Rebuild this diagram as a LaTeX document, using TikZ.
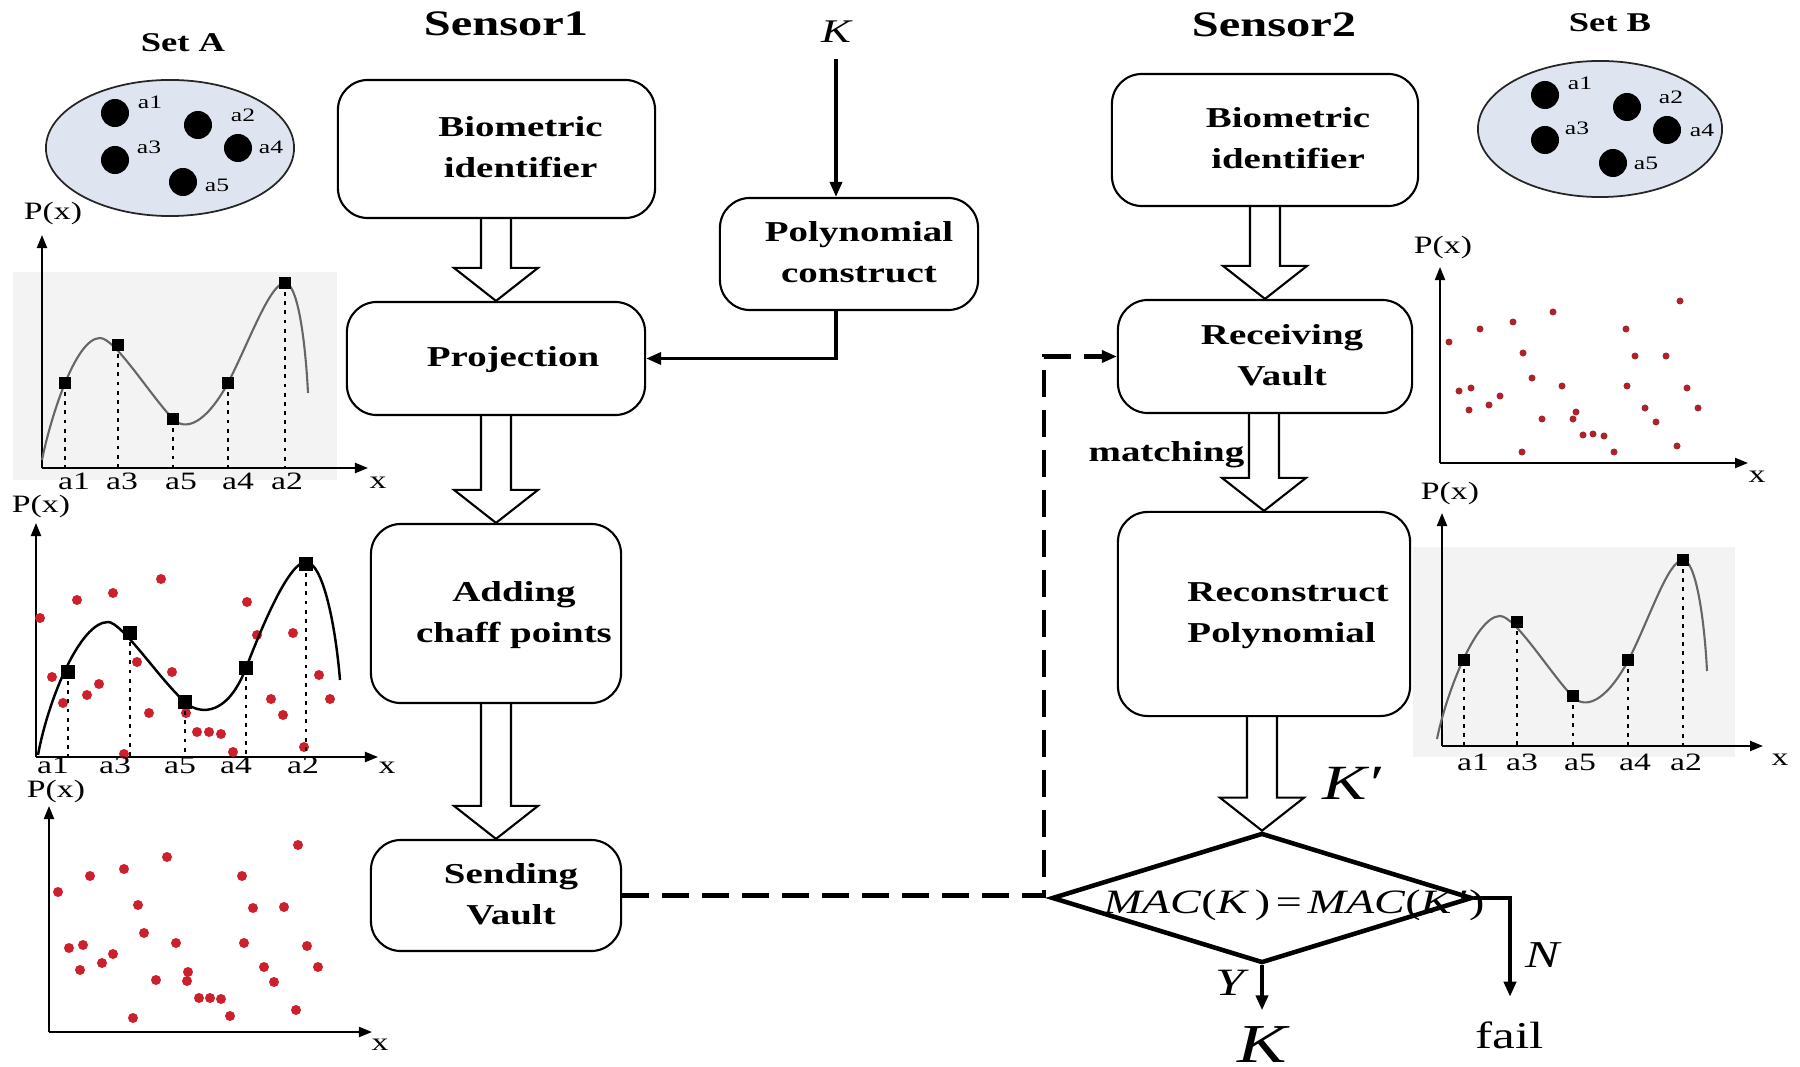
\documentclass[tikz,border=0pt]{standalone}
\usepackage{fontspec}
\setmainfont{Liberation Serif}[FakeStretch=1.35]
\usetikzlibrary{arrows.meta,shapes.geometric,calc}

\definecolor{setfill}{RGB}{223,229,240}
\definecolor{chaffred}{RGB}{205,32,45}
\definecolor{chaffdark}{RGB}{170,35,45}
\definecolor{plotbg}{RGB}{243,243,243}

% two-line box caption, shifted right by half of #1
\newcommand{\stagetext}[2]{\hspace*{#1}\begin{tabular}{@{}c@{}}#2\end{tabular}}
% open block arrow from the bottom of #1 to the top of #2
\newcommand{\thickflow}[2]{%
  \draw[hollow] ($(#2.north |- #1.south)+(-15,0)$) -- ($(#2.north)+(-15,-33)$)
    -- ($(#2.north)+(-42,-33)$) -- (#2.north) -- ($(#2.north)+(42,-33)$)
    -- ($(#2.north)+(15,-33)$) -- ($(#2.north |- #1.south)+(15,0)$);}

\tikzset{
  stage/.style={draw, line width=0.6pt, rounded corners=0.3cm, inner sep=0pt,
    font=\fontsize{8.2}{11.7}\selectfont\bfseries},
  hollow/.style={draw, line width=0.6pt, line join=miter},
  arr/.style={line width=1pt, -{Triangle[length=0.15cm,width=0.12cm]}},
  link/.style={line width=1.3pt, dash pattern=on 0.27cm off 0.13cm},
  axis/.style={line width=0.6pt, -{Triangle[length=0.13cm,width=0.1cm]}},
  axlab/.style={inner sep=0pt, font=\fontsize{7.1}{8}\selectfont},
  setlab/.style={inner sep=0pt, font=\fontsize{5.4}{6}\selectfont},
  title/.style={inner sep=0pt, font=\fontsize{10.2}{12}\selectfont\bfseries},
  settitle/.style={inner sep=0pt, font=\fontsize{7.7}{9}\selectfont\bfseries},
  setshape/.style={ellipse, draw=black!85, line width=0.5pt, fill=setfill, inner sep=0pt},
  dotline/.style={line width=0.8pt, dash pattern=on 1.1pt off 1.5pt},
  mathlab/.style={inner sep=0pt},
  thincurve/.style={black!60, line width=0.6pt},
}

\begin{document}
\begin{tikzpicture}[x=0.01cm, y=-0.01cm]
\useasboundingbox (0,0) rectangle (1800,1067);

% ---------- titles ----------
\node[title] (s1) at (506,24) {Sensor1};
\node[title] (s2) at (1274,25) {Sensor2};
\node[settitle] (sa) at (183,43) {Set A};
\node[settitle] (sb) at (1610,23) {Set B};

% ---------- sets of features ----------
\node[setshape, minimum width=2.48cm, minimum height=1.36cm] (setA) at (170,148) {};
\foreach \x/\y in {115/113, 198/125, 115/160, 238/148, 183/182}
  \fill (\x,\y) circle[radius=0.14cm];
\foreach \n/\x/\y in {a1/150/102, a2/243/115, a3/149/147, a4/271/147, a5/217/185}
  \node[setlab] (A\n) at (\x,\y) {\n};

\node[setshape, minimum width=2.44cm, minimum height=1.36cm] (setB) at (1600,129) {};
\foreach \x/\y in {1545/95, 1627/107, 1545/140, 1667/130, 1613/163}
  \fill (\x,\y) circle[radius=0.14cm];
\foreach \n/\x/\y in {a1/1580/83, a2/1671/97, a3/1577/128, a4/1702/130, a5/1646/163}
  \node[setlab] (B\n) at (\x,\y) {\n};

% ---------- sensor 1 flow ----------
\node[stage, minimum width=3.17cm, minimum height=1.38cm] (bio1) at (496.5,149)
  {\stagetext{0.48cm}{Biometric\\identifier}};
\node[stage, minimum width=2.98cm, minimum height=1.13cm] (proj) at (496,358.5)
  {\stagetext{0.34cm}{Projection}};
\node[stage, minimum width=2.58cm, minimum height=1.12cm] (poly) at (849,254)
  {\stagetext{0.2cm}{Polynomial\\construct}};
\node[stage, minimum width=2.50cm, minimum height=1.79cm] (add) at (496,613.5)
  {\stagetext{0.36cm}{Adding\\chaff points}};
\node[stage, minimum width=2.50cm, minimum height=1.11cm] (send) at (496,895.5)
  {\stagetext{0.3cm}{Sending\\Vault}};

\node[mathlab, font=\fontsize{9.4}{10}\selectfont\itshape] (kin) at (836,32) {K};
\draw[arr, shorten <=0.15cm] (kin) -- (kin |- poly.north);
\draw[arr] (kin |- poly.south) |- (proj.east);

\thickflow{bio1}{proj}
\thickflow{proj}{add}
\thickflow{add}{send}

% ---------- sensor 2 flow ----------
\node[stage, minimum width=3.06cm, minimum height=1.32cm] (bio2) at (1265,140)
  {\stagetext{0.46cm}{Biometric\\identifier}};
\node[stage, minimum width=2.94cm, minimum height=1.13cm] (recv) at (1265,356.5)
  {\stagetext{0.34cm}{Receiving\\Vault}};
\node[stage, minimum width=2.92cm, minimum height=2.04cm] (recon) at (1264,614)
  {\hspace*{0.48cm}\begin{tabular}{@{}l@{}}Reconstruct\\Polynomial\end{tabular}};
\node[diamond, draw, line width=1.3pt, inner sep=0pt,
      minimum width=4.2cm, minimum height=1.3cm] (dia) at (1262,898) {};
\node[mathlab, font=\fontsize{9.7}{11}\selectfont] (mac) at (1294,905)
  {\textit{MAC}(\textit{K}\,)\,=\,\textit{MAC}(\textit{K}\,′)};

\thickflow{bio2}{recv}
\thickflow{recv}{recon}
\thickflow{recon}{dia}

\node[inner sep=0pt, font=\fontsize{8.2}{10}\selectfont\bfseries, anchor=east] (match) at (1245,455) {matching};
\node[mathlab, font=\fontsize{14}{16}\selectfont\itshape] (kp) at (1352,783) {K′};

% vault transfer
\coordinate (bend) at (1044,356.5);
\draw[link, -{Triangle[length=0.15cm,width=0.12cm]}] (send.east) -| (bend) -- (recv.west);

% decision outputs
\node[mathlab, font=\fontsize{15.6}{17}\selectfont\itshape] (kout) at (1262,1045) {K};
\node[mathlab, font=\fontsize{10.8}{12}\selectfont] (fail) at (1510,1035) {fail};
\node[mathlab, font=\fontsize{11}{12}\selectfont\itshape] (ylab) at (1230,983) {Y};
\node[mathlab, font=\fontsize{10.8}{12}\selectfont\itshape] (nlab) at (1543,955) {N};
\draw[arr, line width=1.3pt, shorten >=0.16cm] (dia.south) -- (kout.north);
\draw[arr, line width=1.3pt, shorten >=0.24cm] (dia.east) -| (fail.north);

% ---------- plot: polynomial through the set A points ----------
\fill[plotbg] (13,272) rectangle (337,480);
\draw[axis] (42,468) -- (42,235);
\draw[axis] (42,468) -- (368,468);
\node[axlab] (p1) at (53,213) {P(x)};
\node[axlab] (x1) at (378,483) {x};
\draw[thincurve] (42,460) .. controls (50,420) and (75,338) .. (100,338)
  .. controls (115,338) and (150,395) .. (173,419)
  .. controls (185,431) and (205,425) .. (228,383)
  .. controls (250,340) and (270,283) .. (285,283)
  .. controls (297,283) and (305,335) .. (308,393);
\foreach \x/\y/\n/\lx in {65/383/a1/74, 118/345/a3/122, 173/419/a5/181, 228/383/a4/238, 285/283/a2/287} {
  \draw[dotline] (\x,\y) -- (\x,468);
  \fill (\x,\y) ++(-6,-6) rectangle ++(12,12);
  \node[axlab] (g1\n) at (\lx,481) {\n};
}

% ---------- plot: polynomial hidden among chaff points ----------
\draw[axis] (36,757) -- (36,523);
\draw[axis] (36,757) -- (378,757);
\node[axlab] (p2) at (41,506) {P(x)};
\node[axlab] (x2) at (387,768) {x};
\foreach \x/\y in {40/618, 77/600, 113/593, 161/579, 247/602, 52/677, 99/684, 87/695,
  63/703, 137/662, 172/672, 149/713, 186/713, 197/732, 209/732, 221/734, 233/752,
  124/754, 257/635, 293/633, 319/675, 330/699, 271/699, 283/715, 304/747}
  \fill[chaffred] (\x,\y) circle[radius=0.05cm];
\draw[black, line width=0.7pt] (38,755) .. controls (48,700) and (80,622) .. (108,622)
  .. controls (122,622) and (160,680) .. (185,702)
  .. controls (195,712) and (225,722) .. (246,668)
  .. controls (260,632) and (288,562) .. (306,562)
  .. controls (322,562) and (335,620) .. (340,680);
\foreach \x/\y/\n/\lx in {68/672/a1/53, 130/633/a3/115, 185/702/a5/180, 246/668/a4/236, 306/564/a2/303} {
  \draw[dotline] (\x,\y) -- (\x,757);
  \fill (\x,\y) ++(-7,-7) rectangle ++(14,14);
  \node[axlab] (g2\n) at (\lx,765) {\n};
}

% ---------- plot: the vault sent out ----------
\draw[axis] (49,1032) -- (49,806);
\draw[axis] (49,1032) -- (372,1032);
\node[axlab] (p3) at (56,791) {P(x)};
\node[axlab] (x3) at (380,1045) {x};
\foreach \x/\y in {58/892, 90/876, 124/869, 167/857, 242/876, 298/845, 138/905, 253/908,
  284/907, 144/933, 176/943, 244/943, 307/946, 69/948, 83/945, 113/954, 102/963,
  80/970, 156/980, 188/972, 187/981, 264/967, 318/967, 274/982, 199/998, 210/998,
  221/999, 133/1018, 230/1016, 296/1010}
  \fill[chaffred] (\x,\y) circle[radius=0.05cm];

% ---------- plot: the vault received ----------
\draw[axis] (1440,463) -- (1440,267);
\draw[axis] (1440,463) -- (1748,463);
\node[axlab] (p4) at (1443,248) {P(x)};
\node[axlab] (x4) at (1757,477) {x};
\foreach \x/\y in {1449/342, 1480/329, 1513/322, 1553/312, 1680/301, 1626/329, 1523/353,
  1635/356, 1666/356, 1532/378, 1562/386, 1627/386, 1687/388, 1459/391, 1471/388,
  1500/396, 1489/405, 1469/410, 1542/419, 1576/412, 1573/419, 1645/408, 1698/408,
  1656/422, 1583/435, 1593/434, 1604/436, 1522/452, 1614/452, 1677/446}
  \fill[chaffdark] (\x,\y) circle[radius=0.035cm];

% ---------- plot: reconstructed polynomial ----------
\fill[plotbg] (1413,547) rectangle (1735,757);
\draw[axis] (1442,746) -- (1442,513);
\draw[axis] (1442,746) -- (1763,746);
\node[axlab] (p5) at (1450,493) {P(x)};
\node[axlab] (x5) at (1780,760) {x};
\begin{scope}[shift={(1400,278)}]
\draw[thincurve] (37,461) .. controls (45,420) and (75,338) .. (100,338)
  .. controls (115,338) and (150,395) .. (173,419)
  .. controls (185,431) and (205,425) .. (228,383)
  .. controls (250,340) and (268,282) .. (283,282)
  .. controls (295,282) and (304,335) .. (307,393);
\end{scope}
\foreach \x/\y/\n/\lx in {1464/660/a1/1473, 1517/622/a3/1522, 1573/696/a5/1580, 1628/660/a4/1635, 1683/560/a2/1686} {
  \draw[dotline] (\x,\y) -- (\x,746);
  \fill (\x,\y) ++(-6,-6) rectangle ++(12,12);
  \node[axlab] (g5\n) at (\lx,762) {\n};
}
\end{tikzpicture}
\end{document}
